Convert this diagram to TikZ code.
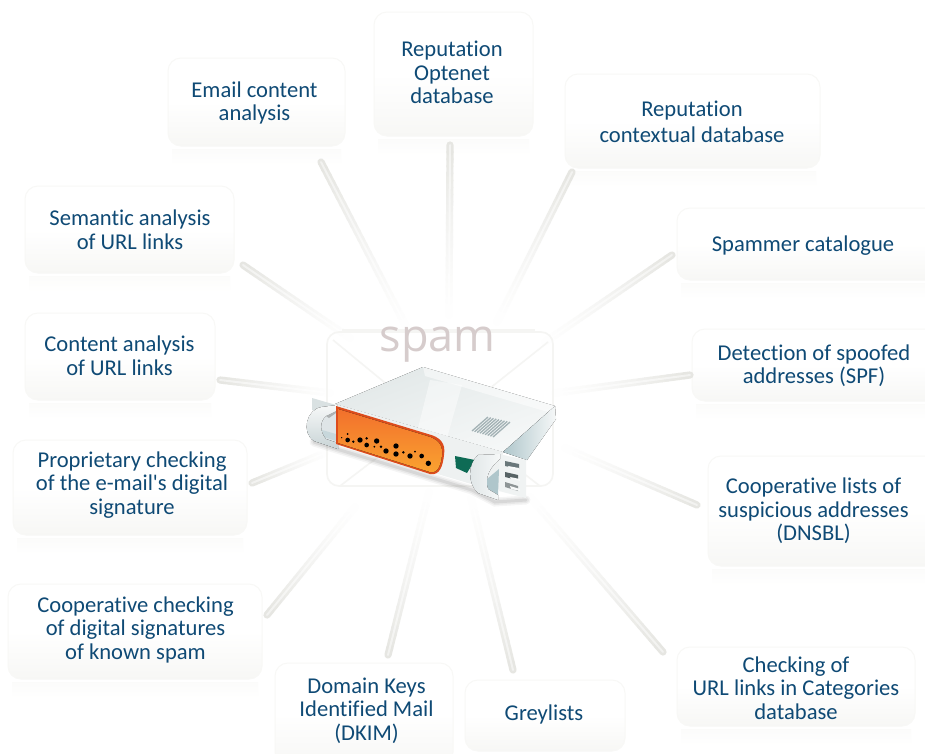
\documentclass[tikz,border=0pt]{standalone}
\usepackage{fontspec}
\setmainfont[Ligatures={TeXOff,NoCommon}]{Carlito}
\newfontfamily\spamfont{Open Sans}
\usetikzlibrary{calc}
\definecolor{txtblue}{HTML}{0F4A75}
\definecolor{spk}{HTML}{E6E6E2}
\definecolor{spkin}{HTML}{F2F2F0}
\definecolor{edgec}{HTML}{F8F8F6}
\definecolor{lowc}{HTML}{F7F7F5}
\definecolor{envc}{HTML}{F5F5F3}
\definecolor{metalA}{HTML}{E2E8E8}
\definecolor{metalB}{HTML}{F6F8F8}
\definecolor{metalC}{HTML}{C9D4D6}
\definecolor{metalD}{HTML}{AFC6CB}
\definecolor{orangeA}{HTML}{F2702C}
\definecolor{orangeB}{HTML}{FAA430}
\definecolor{orangeE}{HTML}{DD4C1C}
\definecolor{tealc}{HTML}{0E6B55}
\definecolor{spamc}{HTML}{D6CCCC}
\tikzset{
  x=1pt,y=-1pt,
  boxst/.style={draw=edgec,line width=1pt,rounded corners=13pt,top color=white,bottom color=lowc,middle color=white,inner sep=0pt},
  reflst/.style={top color=lowc!45!white,bottom color=white,draw=none},
  lab/.style={text=txtblue,align=center,inner sep=0pt,font=\fontsize{22.6}{23.5}\selectfont},
  envst/.style={draw=envc,line width=1.6pt},
}
\newcommand{\bx}[8]{%
  \fill[reflst] (#2+4,#5+3) rectangle (#4-4,#5+19);
  \node[boxst,minimum width={(#4)-(#2)},minimum height={(#5)-(#3)}] (#1) at ({((#2)+(#4))/2},{((#3)+(#5))/2}) {};
  \node[lab] (#1t) at (#6,#7) {#8};
}
\newcommand{\spoke}[2]{%
  \foreach \i in {0,...,23}{
    \pgfmathsetmacro{\fa}{\i/24}\pgfmathsetmacro{\fb}{(\i+1)/24}
    \pgfmathtruncatemacro{\pc}{3+97*(\i/23)^1.3}
    \draw[line width=7.2pt,line cap=round,spk!\pc!white] ($(#1)!\fa!(#2)$) -- ($(#1)!\fb!(#2)$);
  }
  \foreach \i in {0,...,23}{
    \pgfmathsetmacro{\fa}{\i/24}\pgfmathsetmacro{\fb}{(\i+1)/24}
    \pgfmathtruncatemacro{\pc}{3+97*(\i/23)^1.3}
    \draw[line width=2pt,line cap=round,spkin!\pc!white] ($(#1)!\fa!(#2)$) -- ($(#1)!\fb!(#2)$);
  }
}
\begin{document}
\begin{tikzpicture}
\useasboundingbox (0,0) rectangle (925,753);
\fill[white] (0,0) rectangle (925,753);
% feature boxes
\bx{email}{168}{58}{345}{146}{254.5}{103}{Email content\\analysis}
\bx{opt}{374}{12}{533}{136}{452}{72.5}{Reputation\\Optenet\\database}
\bx{ctx}{565}{74}{820}{168}{692}{122}{Reputation\\[2pt]contextual database}
\bx{cat}{677}{208}{940}{280}{803}{245.5}{Spammer catalogue}
\bx{spf}{692}{329}{940}{401}{814}{365.5}{Detection of spoofed\\addresses (SPF)}
\bx{dnsbl}{708}{456}{940}{566}{813.5}{511}{Cooperative lists of\\suspicious addresses\\(DNSBL)}
\bx{url}{677}{647}{915}{726}{796}{688}{Checking of\\URL links in Categories\\database}
\bx{grey}{465}{680}{625}{751}{544}{714.5}{Greylists}
\bx{dkim}{275}{663}{453}{765}{366.5}{710.5}{Domain Keys\\Identified Mail\\(DKIM)}
\bx{sig}{8}{584}{262}{679}{135.5}{629.5}{Cooperative checking\\of digital signatures\\of known spam}
\bx{prop}{13}{440}{247}{535}{132}{485}{Proprietary checking\\of the e-mail's digital\\signature}
\bx{cont}{25}{313}{215}{400}{119.5}{355.5}{Content analysis\\of URL links}
\bx{sem}{25}{186}{234}{273}{130}{229.5}{Semantic analysis\\of URL links}
% hub ends and outer ends of the spokes
\coordinate (h1) at (408,330);\coordinate (o1) at (321,162);
\coordinate (h2) at (449,315);\coordinate (o2) at (450,145);
\coordinate (h3) at (497,322);\coordinate (o3) at (572,172);
\coordinate (h4) at (545,342);\coordinate (o4) at (672,255);
\coordinate (h5) at (555,393);\coordinate (o5) at (690,375);
\coordinate (h6) at (565,448);\coordinate (o6) at (697,505);
\coordinate (h7) at (530,497);\coordinate (o7) at (663,652);
\coordinate (h8) at (471,498);\coordinate (o8) at (513,670);
\coordinate (h9) at (429,492);\coordinate (o9) at (388,655);
\coordinate (h10) at (355,507);\coordinate (o10) at (267,615);
\coordinate (h11) at (325,453);\coordinate (o11) at (252,483);
\coordinate (h12) at (330,393);\coordinate (o12) at (220,380);
\coordinate (h13) at (350,338);\coordinate (o13) at (243,265);
\foreach \n in {1,...,13}{\spoke{h\n}{o\n}}
% envelope behind the server
\draw[envst,rounded corners=12pt] (327,332) rectangle (553,486);
\draw[envst,rounded corners=8pt] (342,330) -- (535,330);
\draw[envst] (333,340) -- (440,428) -- (548,342);
\draw[envst] (340,486) -- (400,440);
\draw[envst] (540,486) -- (480,440);
\node[text=spamc,font=\spamfont\fontsize{45}{45}\selectfont,inner sep=0pt] (spam) at (437.5,345) {spam};
% soft shadow
\foreach \w/\o in {9/0.04,6/0.05,3/0.07}{
  \draw[line width=\w pt,black,opacity=\o,line cap=round] (314,442) -- (340,450) -- (472,490) -- (495,502) -- (526,500);
}
% top face
\fill[top color=metalA,bottom color=metalB,shading angle=20] (423,367) -- (555,406) -- (503,452) -- (335,404) -- cycle;
\fill[white,opacity=.45] (430,380) -- (462,385) -- (447,438) -- (418,428) -- cycle;
\fill[white,opacity=.5] (423,367) -- (555,406) -- (548,412) -- (425,376) -- cycle;
% right side
\fill[left color=metalD,right color=metalB] (503,452) -- (555,406) -- (556,419) -- (527,460) -- cycle;
% front face
\fill[metalB!60!metalA] (335,404) -- (503,452) -- (498,492) -- (337,444) -- cycle;
% rear tab
\fill[metalC!70!white] (312,398) -- (336,405) -- (336,418) -- (312,410) -- cycle;
% left handle
\fill[metalC!60!white] (320,412) -- (338,408) -- (338,444) -- (322,438) -- cycle;
\fill[metalD!70!white] (322,430) -- (336,434) -- (336,441) -- (324,437) -- cycle;
\fill[top color=metalB,bottom color=metalC] (337,405) -- (322,407) .. controls (306,409) and (301,433) .. (314,441) -- (338,449) -- (338,443) -- (326,439) .. controls (320,432) and (319,422) .. (326,416) -- (337,411) -- cycle;
\fill[metalC!60!black!60!white] (326,416) -- (336,411) -- (336,413) -- (329,418) -- cycle;
% orange panel
\fill[orangeE] (336,406) -- (428,434) .. controls (440,437) and (446,443) .. (444,455) .. controls (443,465) and (440,476) .. (430,474) -- (336,444) -- cycle;
\fill[top color=orangeA,bottom color=orangeB] (338,409) -- (427,436) .. controls (438,439) and (443,445) .. (442,455) .. controls (441,464) and (438,474) .. (430,472) -- (338,443) -- cycle;
% perforation
\foreach \a/\b/\r in {203/390/7,203/372/3,185/383/2,220/395/4,240/390/8,260/405/7,260/385/4,290/393/8,283/410/3,303/410/4,318/423/8,348/408/8,348/432/8,370/427/4,390/438/8,405/425/3,425/438/7,445/460/8}{
  \fill[black] ({280+\a/3},{310+\b/3}) circle ({\r/3});
}
% status window
\fill[tealc] (455,456) -- (475,460) -- (467,473) -- (456,468) -- cycle;
% vent
\foreach \k in {0,...,8}{
  \pgfmathsetmacro{\fr}{\k/8}
  \draw[line width=1.3pt,metalD!80!black!80!white] ({488+22*\fr},{417+5*\fr}) -- ({472+21*\fr},{431+6*\fr});
}
% right plate and handle
\fill[metalB!70!metalA] (499,454) -- (526,460) -- (526,498) -- (499,491) -- cycle;
\fill[metalD] (499,469) -- (487,479) -- (487,489) -- (498,496) -- cycle;
\fill[left color=metalC!60!white,right color=metalB] (500,454) -- (478,455) .. controls (468,464) and (467,483) .. (478,493) -- (498,500) -- (498,495) -- (488,489) .. controls (484,478) and (490,467) .. (500,459) -- cycle;
% slots
\fill[metalD!60!black] (505,461) -- (519,464) -- (519,469) -- (505,466) -- cycle;
\fill[white!85!metalC] (508,466) -- (519,468) -- (519,470) -- (509,468) -- cycle;
\fill[metalD!50!black] (505,472) -- (518,475) -- (518,480) -- (505,477) -- cycle;
\fill[white!85!metalC] (510,477) -- (520,479) -- (520,481) -- (511,479) -- cycle;
\fill[gray!70!metalD] (505,482) -- (518,486) -- (518,491) -- (505,487) -- cycle;
\fill[white!85!metalC] (510,486) -- (520,489) -- (520,491) -- (511,489) -- cycle;
\end{tikzpicture}
\end{document}
